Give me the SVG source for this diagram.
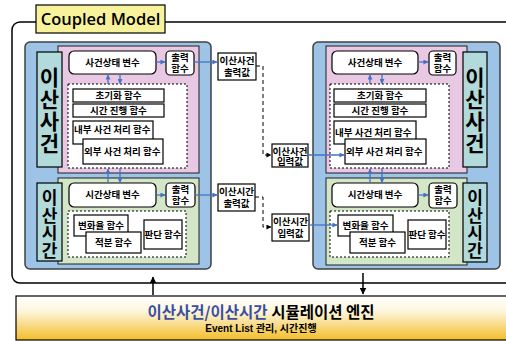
<svg xmlns="http://www.w3.org/2000/svg" width="506" height="341" viewBox="0 0 506 341">
<defs>
<marker id="ab" viewBox="0 0 6 6" refX="5.5" refY="3" markerWidth="5" markerHeight="5" orient="auto" markerUnits="userSpaceOnUse"><path d="M0,0 L6,3 L0,6 z" fill="#4472c4"/></marker>
<marker id="ak" viewBox="0 0 6 6" refX="5.5" refY="3" markerWidth="5" markerHeight="5" orient="auto" markerUnits="userSpaceOnUse"><path d="M0,0 L6,3 L0,6 z" fill="#000"/></marker>
<marker id="ak2" viewBox="0 0 6 6" refX="5.5" refY="3" markerWidth="7" markerHeight="7" orient="auto" markerUnits="userSpaceOnUse"><path d="M0,0 L6,3 L0,6 z" fill="#000"/></marker>
<linearGradient id="eg" x1="0" y1="0" x2="0" y2="1">
<stop offset="0" stop-color="#ffffff"/>
<stop offset="0.35" stop-color="#fdf5dc"/>
<stop offset="1" stop-color="#f3bd28"/>
</linearGradient>
</defs>
<style>
text{font-family:"Noto Sans CJK KR","Noto Sans",sans-serif;font-weight:bold;fill:#000}
.t{font-size:9.5px;text-anchor:middle}
.tl{font-size:9.5px}
.big{font-size:21px;text-anchor:middle;writing-mode:vertical-rl;letter-spacing:1px}
.mid{font-size:17px;text-anchor:middle;writing-mode:vertical-rl;letter-spacing:0.7px}
.blue{fill:#9dc3e6;stroke:#404040;stroke-width:1.5}
.pink{fill:#e8c8e2;stroke:#202020;stroke-width:1}
.green{fill:#d3e7c8;stroke:#202020;stroke-width:1}
.teal{fill:#b2dada;stroke:#000;stroke-width:1.2}
.box{fill:#fff;stroke:#000;stroke-width:1.2}
.dash{fill:#fff;stroke:#000;stroke-width:1;stroke-dasharray:2,2}
.ba{stroke:#4472c4;stroke-width:1.3;fill:none;marker-end:url(#ab)}
.ka{stroke:#000;stroke-width:1;fill:none;stroke-dasharray:4,3;marker-end:url(#ak)}
</style>

<g id="coupled">
<rect x="12" y="22" width="510" height="261" rx="8" fill="#fff" stroke="#000" stroke-width="1.5"/>
<rect x="36" y="5" width="129" height="28" fill="#f8f29c" stroke="#000" stroke-width="1.2"/>
<text x="100.5" y="25" style="font-family:'Open Sans','Noto Sans',sans-serif;font-weight:600;font-size:16.5px;text-anchor:middle">Coupled Model</text>
</g>

<g id="left-module">
<rect class="blue" x="25" y="42" width="186" height="227" rx="5"/>
<rect class="pink" x="58" y="46" width="141" height="127"/>
<rect class="green" x="58" y="178" width="141" height="86"/>
<rect class="teal" x="37" y="52" width="25" height="115"/>
<text class="big" x="49.5" y="110.5">이산사건</text>
<rect class="teal" x="37" y="183" width="25" height="78"/>
<text class="mid" x="49.5" y="224.5">이산시간</text>
</g>
<g id="L-evstate"><rect class="box" x="69" y="51" width="87" height="23" rx="5"/><text class="t" x="112.5" y="66">사건상태 변수</text></g>
<g id="L-evout"><rect class="box" x="166" y="51" width="28" height="24" rx="4"/><text class="t" x="180" y="61">출력<tspan x="180" dy="11">함수</tspan></text></g>
<g id="L-evfuncs">
<rect class="dash" x="68" y="84" width="119" height="84"/>
<rect class="box" x="73" y="89" width="91" height="13"/><text class="t" x="118.5" y="99">초기화 함수</text>
<rect class="box" x="73" y="104" width="91" height="13"/><text class="t" x="118.5" y="114">시간 진행 함수</text>
<rect class="box" x="73" y="121" width="80" height="23"/><text class="tl" x="74" y="133">내부 사건 처리 함수</text>
<rect class="box" x="83" y="139" width="80" height="25"/><text class="tl" x="84" y="155">외부 사건 처리 함수</text>
</g>
<g id="L-tstate"><rect class="box" x="69" y="183" width="87" height="24" rx="5"/><text class="t" x="112.5" y="198">시간상태 변수</text></g>
<g id="L-tout"><rect class="box" x="166" y="183" width="29" height="24" rx="4"/><text class="t" x="180.5" y="193">출력<tspan x="180.5" dy="11">함수</tspan></text></g>
<g id="L-tfuncs">
<rect class="dash" x="68" y="211" width="118" height="46"/>
<rect class="box" x="74" y="215" width="54" height="21"/><text class="t" x="101" y="229">변화율 함수</text>
<rect class="box" x="86" y="232" width="55" height="21"/><text class="t" x="113.5" y="246">적분 함수</text>
<rect class="box" x="144" y="220" width="38" height="29"/><text class="t" x="163" y="238">판단 함수</text>
</g>

<g id="right-module">
<rect class="blue" x="313" y="42" width="187" height="227" rx="5"/>
<rect class="pink" x="326" y="46" width="141" height="127"/>
<rect class="green" x="326" y="178" width="141" height="87"/>
<rect class="teal" x="463" y="52" width="24" height="115"/>
<text class="big" x="475" y="110.5">이산사건</text>
<rect class="teal" x="463" y="183" width="24" height="79"/>
<text class="mid" x="475" y="224.5">이산시간</text>
</g>
<g id="R-evstate"><rect class="box" x="332" y="51" width="86" height="23" rx="5"/><text class="t" x="375" y="66">사건상태 변수</text></g>
<g id="R-evout"><rect class="box" x="429" y="51" width="27" height="24" rx="4"/><text class="t" x="442.5" y="61">출력<tspan x="442.5" dy="11">함수</tspan></text></g>
<g id="R-evfuncs">
<rect class="dash" x="330" y="84" width="119" height="84"/>
<rect class="box" x="334" y="89" width="92" height="13"/><text class="t" x="380" y="99">초기화 함수</text>
<rect class="box" x="334" y="104" width="92" height="13"/><text class="t" x="380" y="114">시간 진행 함수</text>
<rect class="box" x="334" y="121" width="82" height="23"/><text class="tl" x="335" y="136">내부 사건 처리 함수</text>
<rect class="box" x="345" y="139" width="81" height="25"/><text class="tl" x="346" y="155">외부 사건 처리 함수</text>
</g>
<g id="R-tstate"><rect class="box" x="332" y="183" width="86" height="24" rx="5"/><text class="t" x="375" y="198">시간상태 변수</text></g>
<g id="R-tout"><rect class="box" x="429" y="183" width="28" height="25" rx="4"/><text class="t" x="443" y="193">출력<tspan x="443" dy="11">함수</tspan></text></g>
<g id="R-tfuncs">
<rect class="dash" x="330" y="211" width="119" height="46"/>
<rect class="box" x="338" y="215" width="55" height="21"/><text class="t" x="365.5" y="229">변화율 함수</text>
<rect class="box" x="350" y="232" width="55" height="21"/><text class="t" x="377.5" y="246">적분 함수</text>
<rect class="box" x="408" y="220" width="38" height="29"/><text class="t" x="427" y="238">판단 함수</text>
</g>

<g id="ev-out"><rect class="box" x="218" y="53" width="38" height="27"/><text class="t" x="237" y="64">이산사건<tspan x="237" dy="12">출력값</tspan></text></g>
<g id="t-out"><rect class="box" x="218" y="184" width="37" height="27"/><text class="t" x="236.5" y="195">이산시간<tspan x="236.5" dy="12">출력값</tspan></text></g>
<g id="ev-in"><rect class="box" x="272" y="144" width="36" height="23"/><text class="t" x="290" y="154.5">이산사건<tspan x="290" dy="10">입력값</tspan></text></g>
<g id="t-in"><rect class="box" x="272" y="214" width="37" height="27"/><text class="t" x="290.5" y="225">이산시간<tspan x="290.5" dy="12">입력값</tspan></text></g>

<g id="engine">
<rect x="16" y="296" width="500" height="44" fill="url(#eg)" stroke="#000" stroke-width="1.2"/>
<text x="261" y="318" style="font-size:15.5px;text-anchor:middle"><tspan style="fill:#3a4ea0">이산사건/이산시간</tspan> 시뮬레이션 엔진</text>
<text x="261" y="332" style="font-size:10px;text-anchor:middle;font-family:'Liberation Sans','Noto Sans CJK KR',sans-serif">Event List 관리, 시간진행</text>
</g>

<g id="connectors">
<path class="ba" d="M156,62 H165"/>
<path class="ba" d="M194,62 H217"/>
<path class="ba" d="M108,84 V75"/>
<path class="ba" d="M120,75 V83.5"/>
<path class="ba" d="M108,183 V169"/>
<path class="ba" d="M120,168 V182.5"/>
<path class="ba" d="M156,195 H165"/>
<path class="ba" d="M195,195 H217"/>
<path class="ba" d="M418,62 H428"/>
<path class="ba" d="M370,84 V75"/>
<path class="ba" d="M382,75 V83.5"/>
<path class="ba" d="M370,183 V169"/>
<path class="ba" d="M382,168 V182.5"/>
<path class="ba" d="M418,195 H428"/>
<path class="ba" d="M308,155 H344"/>
<path class="ba" d="M309,225 H337"/>
<path class="ka" d="M256,66 H263 V155 H271"/>
<path class="ka" d="M255,197 H263 V227 H271"/>
<path d="M153,295 V277" stroke="#000" stroke-width="1.5" marker-end="url(#ak2)"/>
<path d="M363,273 V294" stroke="#000" stroke-width="1.5" marker-end="url(#ak2)"/>
</g>
</svg>
